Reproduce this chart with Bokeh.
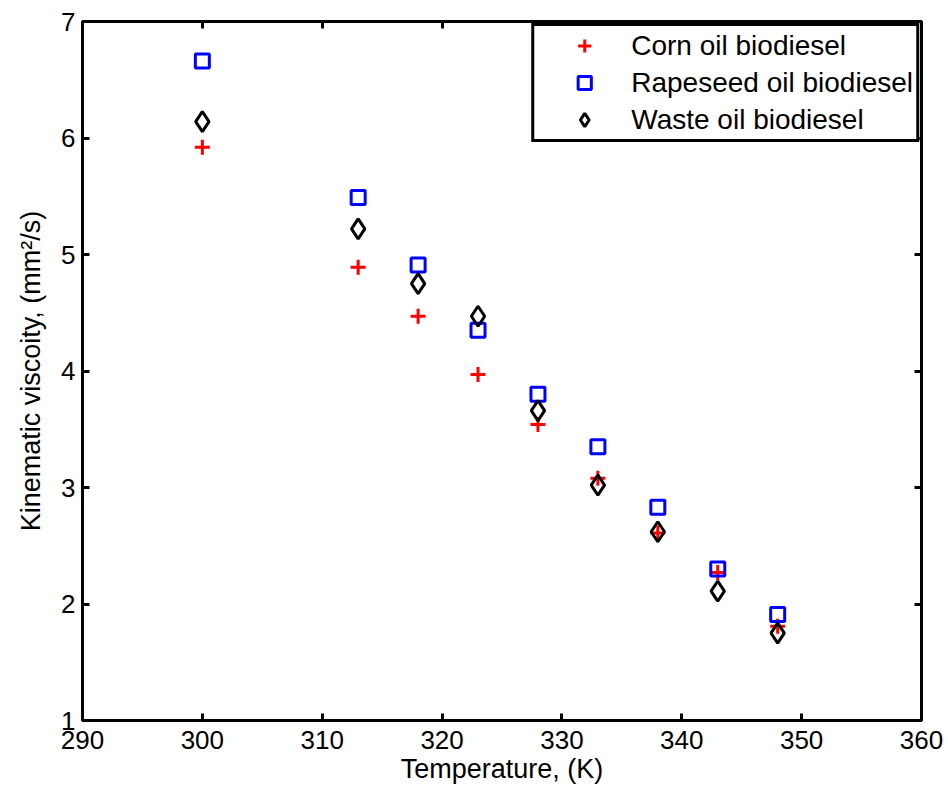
from bokeh.plotting import figure
from bokeh.models import Range1d, FixedTicker, LinearAxis, ColumnDataSource
from bokeh.embed import file_html
from bokeh.resources import INLINE

temperature = [300, 313, 318, 323, 328, 333, 338, 343, 348]
corn = [5.92, 4.89, 4.47, 3.97, 3.54, 3.08, 2.61, 2.27, 1.81]
rapeseed = [6.66, 5.49, 4.91, 4.35, 3.80, 3.35, 2.83, 2.30, 1.91]
waste = [6.14, 5.22, 4.75, 4.47, 3.66, 3.02, 2.62, 2.11, 1.75]

x_ticks = [290, 300, 310, 320, 330, 340, 350, 360]
y_ticks = [1, 2, 3, 4, 5, 6, 7]

FONT = "Liberation Sans"
TICK_FS = "26px"
LABEL_FS = "27px"
LEGEND_FS = "28px"

p = figure(width=948, height=791, output_backend="svg", toolbar_location=None,
           x_range=Range1d(290, 360), y_range=Range1d(1, 7),
           min_border_left=82, min_border_right=27, min_border_top=21, min_border_bottom=71,
           x_axis_label="Temperature, (K)", y_axis_label="Kinematic viscoity, (mm\u00b2/s)")

p.xgrid.visible = False
p.ygrid.visible = False
p.outline_line_color = "black"
p.outline_line_width = 3
p.background_fill_color = "white"
p.border_fill_color = "white"

src = ColumnDataSource(dict(t=temperature, corn=corn, rape=rapeseed, waste=waste))

p.scatter("t", "corn", source=src, marker="cross", size=15, line_color="red",
          line_width=3, legend_label="Corn oil biodiesel")
p.scatter("t", "rape", source=src, marker="square", size=14, line_color="blue",
          fill_color=None, line_width=3, legend_label="Rapeseed oil biodiesel")
p.scatter("t", "waste", source=src, marker="diamond", size=20, line_color="black",
          fill_color=None, line_width=3, legend_label="Waste oil biodiesel")


def style_axis(ax, ticks, show_labels):
    ax.ticker = FixedTicker(ticks=ticks)
    ax.axis_line_width = 3
    ax.axis_line_color = "black"
    ax.major_tick_in = 7
    ax.major_tick_out = 0
    ax.major_tick_line_width = 3
    ax.major_tick_line_color = "black"
    ax.minor_tick_line_color = None
    ax.major_label_text_font = FONT
    ax.major_label_text_font_size = TICK_FS
    ax.axis_label_text_font = FONT
    ax.axis_label_text_font_size = LABEL_FS
    ax.axis_label_text_font_style = "normal"
    ax.axis_label_text_color = "black"
    if show_labels:
        ax.major_label_text_color = "black"
    else:
        ax.major_label_text_color = None
        ax.major_label_standoff = 0


style_axis(p.xaxis[0], x_ticks, True)
style_axis(p.yaxis[0], y_ticks, True)
p.xaxis[0].major_label_standoff = 10
p.xaxis[0].axis_label_standoff = 2
p.yaxis[0].major_label_standoff = 7
p.yaxis[0].axis_label_standoff = 12

top = LinearAxis()
style_axis(top, x_ticks, False)
p.add_layout(top, "above")
right = LinearAxis()
style_axis(right, y_ticks, False)
p.add_layout(right, "right")

lg = p.legend[0]
lg.location = "top_right"
lg.margin = 2
lg.padding = 3
lg.spacing = 4
lg.label_height = 33
lg.glyph_height = 33
lg.glyph_width = 94
lg.label_standoff = 0
lg.label_text_font = FONT
lg.label_text_font_size = LEGEND_FS
lg.label_text_color = "black"
lg.border_line_color = "black"
lg.border_line_alpha = 1.0
lg.border_line_width = 3
lg.background_fill_color = "white"
lg.background_fill_alpha = 1.0

open("out.html", "w").write(file_html(p, INLINE))
